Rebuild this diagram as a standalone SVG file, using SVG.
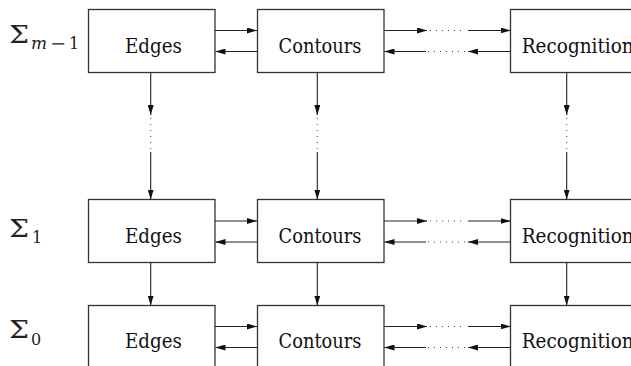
<svg xmlns="http://www.w3.org/2000/svg" width="631" height="366" viewBox="0 0 631 366">
<defs>
<style>
.box{fill:#fff;stroke:#333;stroke-width:1.3}
.ln{stroke:#222;stroke-width:1.1;fill:none}
.dot{stroke:#444;stroke-width:1;fill:none;stroke-dasharray:1 5}
.t{font-family:'DejaVu Serif','Liberation Serif',serif;font-size:21px;fill:#111}
.sig{font-family:'DejaVu Serif','Liberation Serif',serif;font-size:25px;fill:#222}
.sub{font-family:'DejaVu Serif','Liberation Serif',serif;font-size:16px;fill:#222}
</style>
<marker id="ah" viewBox="0 0 10 6" refX="10" refY="3" markerWidth="10" markerHeight="6" markerUnits="userSpaceOnUse" orient="auto">
<path d="M0,0 L10,3 L0,6 Z" fill="#111"/>
</marker>
</defs>

<g id="labels">
<text class="sig" x="9" y="43" textLength="20" lengthAdjust="spacingAndGlyphs">Σ</text>
<text class="sub" x="31" y="49" font-style="italic" textLength="16" lengthAdjust="spacingAndGlyphs">m</text>
<text class="sub" x="50" y="49" textLength="16" lengthAdjust="spacingAndGlyphs">−</text>
<text class="sub" x="69" y="49">1</text>
<text class="sig" x="9" y="237" textLength="20" lengthAdjust="spacingAndGlyphs">Σ</text>
<text class="sub" x="32" y="243">1</text>
<text class="sig" x="9" y="338" textLength="20" lengthAdjust="spacingAndGlyphs">Σ</text>
<text class="sub" x="31" y="345">0</text>
</g>

<g id="edges-top"><rect class="box" x="88.5" y="9.5" width="126.5" height="63"/><text class="t" x="125" y="52.5" textLength="57" lengthAdjust="spacingAndGlyphs">Edges</text></g>
<g id="contours-top"><rect class="box" x="257.5" y="9.5" width="126.5" height="63"/><text class="t" x="278.5" y="52.5" textLength="83" lengthAdjust="spacingAndGlyphs">Contours</text></g>
<g id="recognition-top"><rect class="box" x="510.5" y="9.5" width="130" height="63"/><text class="t" x="521.7" y="52.5" textLength="112" lengthAdjust="spacingAndGlyphs">Recognition</text></g>

<g id="edges-mid"><rect class="box" x="88.5" y="199.5" width="126.5" height="63"/><text class="t" x="125" y="243" textLength="57" lengthAdjust="spacingAndGlyphs">Edges</text></g>
<g id="contours-mid"><rect class="box" x="257.5" y="199.5" width="126.5" height="63"/><text class="t" x="278.5" y="243" textLength="83" lengthAdjust="spacingAndGlyphs">Contours</text></g>
<g id="recognition-mid"><rect class="box" x="510.5" y="199.5" width="130" height="63"/><text class="t" x="521.7" y="243" textLength="112" lengthAdjust="spacingAndGlyphs">Recognition</text></g>

<g id="edges-bot"><rect class="box" x="88.5" y="305.5" width="126.5" height="70"/><text class="t" x="125" y="348" textLength="57" lengthAdjust="spacingAndGlyphs">Edges</text></g>
<g id="contours-bot"><rect class="box" x="257.5" y="305.5" width="126.5" height="70"/><text class="t" x="278.5" y="348" textLength="83" lengthAdjust="spacingAndGlyphs">Contours</text></g>
<g id="recognition-bot"><rect class="box" x="510.5" y="305.5" width="130" height="70"/><text class="t" x="521.7" y="348" textLength="112" lengthAdjust="spacingAndGlyphs">Recognition</text></g>

<g id="connectors">
<line class="ln" x1="215" y1="30.5" x2="257" y2="30.5" marker-end="url(#ah)"/>
<line class="ln" x1="257.5" y1="51.5" x2="215.5" y2="51.5" marker-end="url(#ah)"/>
<line class="ln" x1="384" y1="30.5" x2="427" y2="30.5" marker-end="url(#ah)"/>
<line class="dot" x1="430" y1="30.5" x2="466" y2="30.5"/>
<line class="ln" x1="468" y1="30.5" x2="510.5" y2="30.5" marker-end="url(#ah)"/>
<line class="ln" x1="510.5" y1="51.5" x2="468" y2="51.5" marker-end="url(#ah)"/>
<line class="dot" x1="465" y1="51.5" x2="428" y2="51.5"/>
<line class="ln" x1="426" y1="51.5" x2="384.5" y2="51.5" marker-end="url(#ah)"/>
<line class="ln" x1="215" y1="221" x2="257" y2="221" marker-end="url(#ah)"/>
<line class="ln" x1="257.5" y1="242" x2="215.5" y2="242" marker-end="url(#ah)"/>
<line class="ln" x1="384" y1="221" x2="427" y2="221" marker-end="url(#ah)"/>
<line class="dot" x1="430" y1="221" x2="466" y2="221"/>
<line class="ln" x1="468" y1="221" x2="510.5" y2="221" marker-end="url(#ah)"/>
<line class="ln" x1="510.5" y1="242" x2="468" y2="242" marker-end="url(#ah)"/>
<line class="dot" x1="465" y1="242" x2="428" y2="242"/>
<line class="ln" x1="426" y1="242" x2="384.5" y2="242" marker-end="url(#ah)"/>
<line class="ln" x1="215" y1="326.5" x2="257" y2="326.5" marker-end="url(#ah)"/>
<line class="ln" x1="257.5" y1="347.5" x2="215.5" y2="347.5" marker-end="url(#ah)"/>
<line class="ln" x1="384" y1="326.5" x2="427" y2="326.5" marker-end="url(#ah)"/>
<line class="dot" x1="430" y1="326.5" x2="466" y2="326.5"/>
<line class="ln" x1="468" y1="326.5" x2="510.5" y2="326.5" marker-end="url(#ah)"/>
<line class="ln" x1="510.5" y1="347.5" x2="468" y2="347.5" marker-end="url(#ah)"/>
<line class="dot" x1="465" y1="347.5" x2="428" y2="347.5"/>
<line class="ln" x1="426" y1="347.5" x2="384.5" y2="347.5" marker-end="url(#ah)"/>
<line class="ln" x1="150.7" y1="72.5" x2="150.7" y2="115" marker-end="url(#ah)"/>
<line class="dot" x1="150.7" y1="118" x2="150.7" y2="150"/>
<line class="ln" x1="150.7" y1="152" x2="150.7" y2="199.5" marker-end="url(#ah)"/>
<line class="ln" x1="317.3" y1="72.5" x2="317.3" y2="115" marker-end="url(#ah)"/>
<line class="dot" x1="317.3" y1="118" x2="317.3" y2="150"/>
<line class="ln" x1="317.3" y1="152" x2="317.3" y2="199.5" marker-end="url(#ah)"/>
<line class="ln" x1="566.7" y1="72.5" x2="566.7" y2="115" marker-end="url(#ah)"/>
<line class="dot" x1="566.7" y1="118" x2="566.7" y2="150"/>
<line class="ln" x1="566.7" y1="152" x2="566.7" y2="199.5" marker-end="url(#ah)"/>
<line class="ln" x1="150.7" y1="262.5" x2="150.7" y2="305.5" marker-end="url(#ah)"/>
<line class="ln" x1="317.3" y1="262.5" x2="317.3" y2="305.5" marker-end="url(#ah)"/>
<line class="ln" x1="566.7" y1="262.5" x2="566.7" y2="305.5" marker-end="url(#ah)"/>
</g>
</svg>
